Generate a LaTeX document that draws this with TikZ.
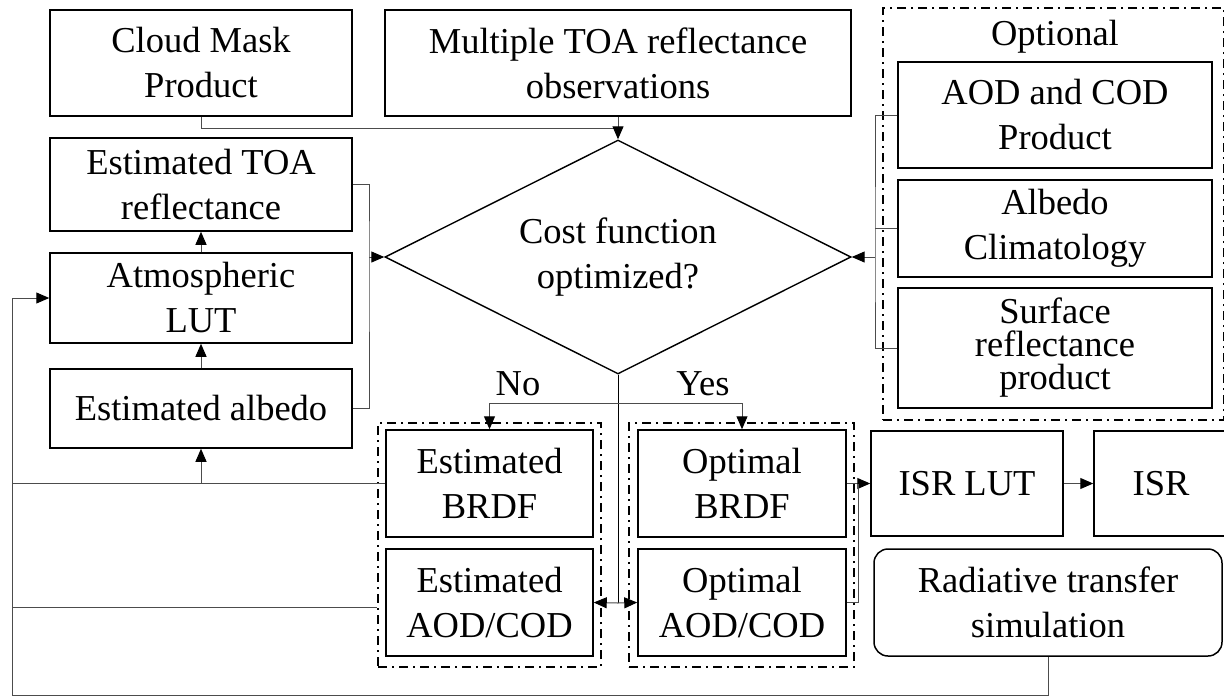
\documentclass[tikz,border=0pt]{standalone}
\usepackage{fontspec}
\setmainfont{Liberation Serif}
\usetikzlibrary{shapes.geometric,arrows.meta}

\begin{document}
\begin{tikzpicture}[x=1pt,y=-1pt,
  txt/.style={font=\fontsize{36.5}{45}\selectfont},
  box/.style={draw, line width=1.5pt, inner sep=0pt, align=center, txt},
  grp/.style={draw, line width=1.3pt, dash pattern=on 9pt off 5pt on 2pt off 5pt, inner sep=0pt},
  conn/.style={line width=1pt, draw=black!70},
  arr/.style={conn, -{Triangle[length=13pt,width=11pt,color=black]}},
  lbl/.style={txt, inner sep=0pt}]

\useasboundingbox (0,0) rectangle (1224,697);

% inputs and the left-hand chain
\node[box, minimum width=302pt, minimum height=106pt] (cloud) at (201,63) {Cloud Mask\\Product};
\node[box, minimum width=466pt, minimum height=106pt] (multi) at (618,63) {Multiple TOA reflectance\\observations};
\node[box, minimum width=302pt, minimum height=93pt] (toa) at (201,184.5) {Estimated TOA\\reflectance};
\node[box, minimum width=302pt, minimum height=90pt] (atm) at (201,298) {Atmospheric\\LUT};
\node[box, minimum width=302pt, minimum height=79pt] (alb) at (201,408.5) {Estimated albedo};

% decision
\node[diamond, draw, line width=1.4pt, aspect=2, inner sep=0pt,
      minimum width=466pt, minimum height=234pt, align=center, txt] (cost) at (618,257) {Cost function\\optimized?};

% optional products
\node[grp, minimum width=341pt, minimum height=412pt] (optgrp) at (1053.5,214) {};
\node[lbl] (optlbl) at (1055,37) {Optional};
\node[box, minimum width=314pt, minimum height=106pt] (aod) at (1055,115) {AOD and COD\\Product};
\node[box, minimum width=314pt, minimum height=97pt] (albclim) at (1055,228.5) {Albedo\\Climatology};
\node[box, minimum width=314pt, minimum height=120pt, font=\fontsize{36.5}{33}\selectfont] (surf) at (1055,348) {Surface\\reflectance\\product};

% outcomes
\node[grp, minimum width=223pt, minimum height=244pt] (estgrp) at (489.5,545) {};
\node[box, minimum width=207pt, minimum height=107pt] (estbrdf) at (489.5,483.5) {Estimated\\BRDF};
\node[box, minimum width=207pt, minimum height=107pt] (estaod) at (489.5,602.5) {Estimated\\AOD/COD};
\node[grp, minimum width=225pt, minimum height=244pt] (yesgrp) at (741.5,545) {};
\node[box, minimum width=208pt, minimum height=107pt] (optbrdf) at (742,483.5) {Optimal\\BRDF};
\node[box, minimum width=208pt, minimum height=107pt] (optaod) at (742,602.5) {Optimal\\AOD/COD};

% products
\node[box, minimum width=192pt, minimum height=105pt] (isrlut) at (967,483.5) {ISR LUT};
\node[box, minimum width=134pt, minimum height=105pt] (isr) at (1161,483.5) {ISR};
\node[box, rounded corners=14pt, minimum width=348pt, minimum height=107pt] (rts) at (1048,602.5) {Radiative transfer\\simulation};

% inputs into the decision
\coordinate (cmj) at (618,128);
\draw[conn] (cloud.south) |- (cmj);
\draw[arr] (multi.south) -- (cost.north);

\coordinate (lbx) at (369,257);
\draw[conn] (toa.east) -| (lbx) |- (alb.east);
\draw[arr] (lbx) -- (cost.west);
\draw[arr] (atm.north) -- (toa.south);
\draw[arr] (alb.north) -- (atm.south);

\coordinate (rbx) at (875,257);
\draw[conn] (aod.west) -| (rbx) |- (surf.west);
\draw[conn] (albclim.west) -- (albclim.west -| rbx);
\draw[arr] (rbx) -- (cost.east);

% branches
\coordinate (split) at (618,403);
\coordinate (down) at (618,603);
\draw[line width=1pt] (cost.south) -- (down);
\draw[arr] (split) -| (estbrdf.north);
\draw[arr] (split) -| (optbrdf.north);
\node[lbl, anchor=base] (no) at (518,395) {No};
\node[lbl, anchor=base] (yes) at (703,395) {Yes};
\draw[arr] (down) -- (estaod.east);
\draw[arr] (down) -- (optaod.west);

% forward to the ISR
\coordinate (oj) at (858,483.5);
\draw[arr] (optbrdf.east) -- (isrlut.west);
\draw[conn] (optaod.east) -| (oj);
\draw[arr] (isrlut.east) -- (isr.west);

% feedback loops
\coordinate (bl) at (12,695.5);
\draw[arr] (rts.south) |- (bl) |- (atm.west);
\coordinate (fb1) at (12,483.5);
\draw[conn] (fb1) -- (estbrdf.west);
\coordinate (albin) at (201,483.5);
\draw[arr] (albin) -- (alb.south);
\coordinate (fb2) at (12,607);
\draw[conn] (fb2) -- (fb2 -| estgrp.west);

\end{tikzpicture}
\end{document}
